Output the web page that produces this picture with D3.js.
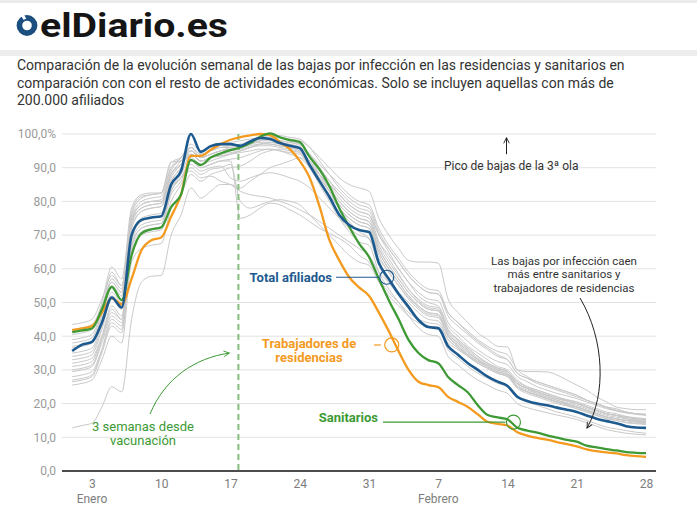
<!DOCTYPE html>
<html><head><meta charset="utf-8">
<script src="https://cdn.jsdelivr.net/npm/d3@7"></script>
<style>body{margin:0;background:#fff;font-family:Roboto,"Noto Sans",sans-serif}svg{display:block}</style>
</head><body><svg id="c" width="697" height="509"></svg>
<script>
// ---------- DATA ----------
const days = d3.range(1, 60); // 1 = 1 de enero ... 59 = 28 de febrero
const tickDays = [3, 10, 17, 24, 31, 38, 45, 52, 59];
const tickLabels = ["3", "10", "17", "24", "31", "7", "14", "21", "28"];
const monthDays = [3, 38];
const monthLabels = ["Enero", "Febrero"];
const yTicks = [0, 10, 20, 30, 40, 50, 60, 70, 80, 90, 100];
const vaccineDay = 17.8;

const totalAfiliados = [35.6,37.5,38.3,44,51.5,48.5,70,74.5,75.2,75.6, 85,89,100,94.7,96.4,97,97,96.5,97.8,98.8, 98.5,97.3,96.5,95.8,90.8,86,81.3,76,73,71.5, 70.9,61.7,57,52.5,48.7,44.8,42.7,42.4,37,34.5, 32,30,28,26.5,25.2,22,20.8,20,19.5,18.8, 18.2,17.5,16.5,15.5,14.8,14.2,13.3,12.9,12.8];
const sanitarios = [41.2,41.7,42.3,48,54.6,50.7,64,70.5,71.7,72.3, 78.3,82,92.3,90.8,93,94.2,95.2,96,97.3,99.2, 100.2,99,98.2,97.6,93.2,89.5,84.5,78,72.5,67.5, 63.5,57,50.7,45,38.9,35,32.9,32,27.9,25.5, 23.3,19.5,16.6,15.9,15.3,12.8,12,11.4,10.6,9.9, 9.2,8.7,7.5,7,6.5,6.1,5.6,5.4,5.3];
const residencias = [41.8,42.3,43,47,51.3,49.5,57,65.5,68.5,69.3, 75.5,82,93.5,93.5,95.3,97,98.3,99.1,99.6,100, 99.7,97.6,95.5,92,87,78.5,68.5,62.5,57.5,54.5, 52,47,41.5,35.5,30,26.5,25.5,24.9,22,20.5, 19,16.8,14.6,14,13.5,11.5,10.5,9.8,9.3,8.6, 8,7.3,6.4,5.9,5.5,5.2,4.7,4.4,4.2];

const otrasActividades = [
 [12.8,13.5,14.2,19,25,23.5,45,56,57.8,58, 70,76,84,81,83,85,85,84,86,88, 90,91,92,93,91,88,84,80,77,75, 74,68,64,60,56,52,50,49,43,40, 37,35,33,31,30,27,25,24,23,22, 21,20.5,19,18,17,16.5,15.5,15,14.8],
 [25.5,26,27,33,40,38,62,66,67,67.5, 78,82,88,86,88,89,90,90.5,92,94, 95,95.5,95,94.5,91,88,85,82,79,77, 76,70,66,62,58,55,53,52.5,47,44, 41,38.5,36.5,34.5,33,29,27.5,26.5,25.5,24.5, 23.5,22.5,21,20,19,18.5,17.5,17,16.8],
 [26.5,27,28,35,43,41,65,70,71,71.5, 80,85,90,88,89.5,90,91,80,78,79, 80,80.5,80,79,76,73,70,67,64,62, 61,56,52,49,46,44,43,42.5,38,36, 34,32,30.5,29,28,25,23.5,22.5,21.5,20.5, 19.5,18.5,17.5,16.5,15.5,15,14.3,14,13.8],
 [28,28.5,29.5,36,44,42,66,71,72,72.5, 82,86,92,90,91,92,92,75,76,78, 79.5,79,77.5,76,74,72,70.5,69,67,64, 62,57,53,50,47,45,44,43.5,39,36.5, 34.5,32.5,31,29.5,28.5,26,24.5,23,22,21, 20,19,18,17,16,15.5,15,14.5,14.2],
 [29.5,30,31,38,46,44,68,73,74,74.5, 84,88,94,92,93,93.5,94,95,96,97, 97.5,97,96,95,92,88,84,80,77,75, 74,66,61,57,53,50,48,47.5,42,39, 36.5,34,32,30.5,29.5,26.5,25,24,23,22, 21.2,20.5,19.5,18.5,17.5,17,16.2,15.8,15.5],
 [31,31.5,32.5,40,49,46,70,75,76,76.5, 86,90,96,93,94,95,95.5,96,97,98, 98.5,98,97.5,97,94,90,86,83,80,78, 77,70,65,60,56,53,51,50.5,44,41, 38.5,36,34,32.5,31.5,28,26.5,25,24,23, 22.3,21.5,20.5,19.5,18.5,17.8,17.2,16.8,16.5],
 [33,33.5,34.5,42,51,48,72,77,78,78.5, 87,91,95,93,94,95,96,96.5,97.5,98.5, 99,99,98.5,98,96,93,90,87,85,84, 83,75,70,66,62.5,62,62,61.7,51,47, 44,41,39,37,36.8,30,29.5,29.5,29.4,28.5, 27,25.5,24,22,20.5,19,18.5,18.2,18.2],
 [34,34.5,35.5,43,52,49,73,78,79,79.5, 88,92,96,94,95,96,96.5,97,98,99, 99.5,99.5,99,98.5,96,92,88,84,81,79, 78,71,66,62,58,55,53,52.5,46,43, 40.5,38,36,34,33,29,27.5,26,25,24, 23,22,21,20,19,18,17.5,17,16.8],
 [35,35.5,36.5,44,53,50,74,79,80,80.5, 89,93,97,95,96,97,97.5,98,98.5,99, 99.5,99,98,97,94,90,86,82,79,77, 76,68,63,58.5,54,51,49,48.5,42,39, 36.5,34,32,30.5,29.5,26,24.5,23.5,22.5,21.5, 20.8,20,19,18,17,16.5,16,15.5,15.3],
 [36.5,37,38,45,55,52,75,80,81,81.5, 90,93,96,94,95,96,96,96.5,97,98, 98,97.5,97,96,93,89,85,81,78,76, 75,67,62,58,54,50.5,48.5,48,41,38, 35.5,33,31,29.5,28.5,25,23.5,22.5,21.5,20.5, 19.8,19,18,17,16,15.5,15,14.7,14.5],
 [38,38.5,39.5,47,57,54,76,81,82,82.5, 91.5,93,95,93,94,95,95.5,96,97,97.5, 97,96.5,96,95,91,86,82,78,75,73, 72,64,59,55,51,48,46,45.5,40,37, 34.5,32,30.5,29,28,24.5,23,22,21,20, 19.3,18.5,17.5,16.5,15.5,15,14.5,14.2,14],
 [39,39.5,40.5,48,59,55,74,78,79,79.5, 88,91,94,92,93,94,95,95.5,96.5,97, 97,96.5,96,95,92,87,83,79,76,74, 73,65,60,56,52,49,47,46.5,40,37, 34.5,32.5,31,29.5,28.5,25,23.5,22.5,21.5,20.5, 19.8,19,18,17,16,15.5,15,14.8,14.6],
 [40.5,41,42,50,60.5,57,78,82,82.5,82.5, 90,92,93,91,92,93,94,95,96,96.5, 96.5,96,95.5,94.5,91,87,83,79,76,74, 73,66,61,57,53,50,48,47.5,41.5,38.5, 36,33.5,32,30.5,29.5,26,24.5,23.5,22.5,21.5, 20.8,20,19,18,17,16.5,16,15.5,15.3],
 [42,42.5,43.5,49,56,53,72,77,78,78.5, 86,90,95,93,94,95,95.5,96,97,98, 98.5,98,97.5,96.5,93,88,83,78,74,71, 69,61,56,52,48,44.5,42.5,42,36,33.5, 31,29,27.5,26,25,22,20.5,19.5,18.5,17.5, 16.8,16,15,14,13,12.5,12,11.5,11.2],
 [43.5,44,45,51,58,55,75,79,80,80, 88,91,94,92,93,94,94.5,95,96,97, 97.5,97,96.5,96,94,91,88,85,82,80, 79,72,67,63,59,56,54,53.5,47,44, 41.5,39,37,35.5,34.5,30,28,26.5,25.5,24.5, 23.5,22.5,21,20,18.8,18,17.3,17,16.8],
 [32,32.5,33.5,40,48,45,67,72,73,73.5, 83,87,92,90,91,92,92.5,93,94,95, 95.5,95,94.5,94,90,85,80,75,71,68, 67,59,54,50,46,42.5,40.5,40,34,31.5, 29,27,25.5,24,23,20,18.8,18,17.3,16.6, 16,15.3,14.3,13.3,12.3,11.7,11.2,10.9,10.7],
 [37,37.5,38.5,46,56,53,77,81.5,82,82.5, 91.7,92,94,92,93,93.5,94,94.5,95,95.5, 95.5,95,94,93,90,86,82,78,75,73, 72,65,60,56,52,49,47,46.5,40.5,38, 35.5,33,31.5,30,29,25.5,24,23,22,21, 20.3,19.5,18.5,17.5,16.5,16,15.5,15.2,15],
 [30,30.5,31.5,39,47,45,69,74,75,75.5, 84,87,91,89,90,90.5,87,86,87,88, 88.5,88,87,86,84,81,78,75,72,70, 69,63,59,55,51.5,48.5,46.5,46,40,37.5, 35,33,31.5,30,29,26,24.5,23.5,22.5,21.5, 20.8,20,19,18,17,16.5,16,15.6,15.4],
 [27,27.5,28.5,36,45,43,67,72,73,73.5, 83,87,89,87,87.5,86,85,83,82,81.5, 81,80,79,77.5,76,74,72,70,68,66, 64,59,56,53,50,47,45,44.5,39,36.5, 34,32,30.5,29,28,25,23.5,22.5,21.5,20.5, 19.8,19,18,17,16,15.5,15,14.6,14.4]
];

const titleLines = [
 "Comparación de la evolución semanal de las bajas por infección en las residencias y sanitarios en",
 "comparación con con el resto de actividades económicas. Solo se incluyen aquellas con más de",
 "200.000 afiliados"
];

// ---------- STYLE ----------
const C = {blue:"#1d5a8f", green:"#3d9a34", orange:"#f39a1f", gray:"#c9c9c9", grid:"#e3e3e3", dash:"#86bf7d"};

const svg = d3.select("#c");
const defs = svg.append("defs");
function marker(id, color){
  defs.append("marker").attr("id", id).attr("viewBox","0 0 10 10").attr("refX",9).attr("refY",5)
    .attr("markerWidth",7).attr("markerHeight",7).attr("orient","auto-start-reverse")
    .append("path").attr("d","M1,1 L9,5 L1,9").attr("fill","none").attr("stroke",color).attr("stroke-width",1.3);
}
marker("arrG", C.green); marker("arrK", "#222");

// header
svg.append("rect").attr("x",0).attr("y",0).attr("width",697).attr("height",3).attr("fill","#ebebeb");
svg.append("rect").attr("x",0).attr("y",50).attr("width",697).attr("height",6).attr("fill","#ededed");
svg.append("circle").attr("cx",27).attr("cy",25.5).attr("r",7.6).attr("fill","none").attr("stroke","#1b4f80").attr("stroke-width",5.6);
svg.append("rect").attr("x",22).attr("y",14).attr("width",3).attr("height",6).attr("fill","#fff").attr("transform","rotate(-30,23,17)");
svg.append("text").attr("x",40).attr("y",37).attr("font-size",34).attr("font-weight",700)
  .attr("fill","#151515").attr("textLength",188).attr("lengthAdjust","spacingAndGlyphs").text("elDiario.es");
svg.selectAll("text.title").data(titleLines).join("text").attr("class","title")
  .attr("x",17).attr("y",(d,i)=>70+i*17.5).attr("font-size",14).attr("fill","#333").text(d=>d);

// scales
const x = d3.scaleLinear().domain([1,59]).range([72.2,646]);
const y = d3.scaleLinear().domain([0,100]).range([471,134]);
const X0 = 62, X1 = 656;

// grid + y labels
const yAxis = d3.axisLeft(y).tickValues(yTicks).tickSize(0).tickPadding(0)
  .tickFormat(v => v === 100 ? "100,0%" : d3.format(".1f")(v).replace(".", ","));
const gy = svg.append("g").attr("transform",`translate(${X0-6},0)`).call(yAxis);
gy.select(".domain").remove();
gy.selectAll("text").attr("font-size",12).attr("fill","#9a9a9a").attr("font-family","Roboto");
svg.append("g").selectAll("line").data(yTicks.filter(v=>v>0)).join("line")
  .attr("x1",X0).attr("x2",X1).attr("y1",d=>y(d)).attr("y2",d=>y(d)).attr("stroke",C.grid).attr("stroke-width",1);

// x axis
const xAxis = d3.axisBottom(x).tickValues(tickDays).tickSize(0).tickPadding(8)
  .tickFormat((d,i)=>tickLabels[i]);
const gx = svg.append("g").attr("transform",`translate(0,${y(0)})`).call(xAxis);
gx.select(".domain").remove();
gx.selectAll("text").attr("font-size",12).attr("fill","#7d7d7d").attr("font-family","Roboto");
svg.append("line").attr("x1",X0).attr("x2",X1).attr("y1",y(0)).attr("y2",y(0)).attr("stroke","#111").attr("stroke-width",1.3);
svg.selectAll("text.month").data(monthDays).join("text").attr("class","month")
  .attr("x",d=>x(d)).attr("y",503).attr("text-anchor","middle").attr("font-size",12).attr("fill","#7d7d7d")
  .text((d,i)=>monthLabels[i]);

// lines
const line = d3.line().x((d,i)=>x(days[i])).y(d=>y(d)).curve(d3.curveMonotoneX);
svg.append("g").selectAll("path").data(otrasActividades).join("path")
  .attr("d",line).attr("fill","none").attr("stroke",C.gray).attr("stroke-width",1);

// vaccine dashed line
svg.append("line").attr("x1",x(vaccineDay)).attr("x2",x(vaccineDay)).attr("y1",y(100)).attr("y2",y(0))
  .attr("stroke",C.dash).attr("stroke-width",2).attr("stroke-dasharray","6,4");

[[residencias,C.orange,2.3],[sanitarios,C.green,2.3],[totalAfiliados,C.blue,2.6]].forEach(([s,c,w])=>{
  svg.append("path").datum(s).attr("d",line).attr("fill","none").attr("stroke",c).attr("stroke-width",w)
    .attr("stroke-linejoin","round");
});

// annotations
const ann = svg.append("g").attr("font-family","Roboto");
// total afiliados
ann.append("text").attr("x",332).attr("y",282).attr("text-anchor","end").attr("font-size",13).attr("font-weight",700).attr("fill",C.blue).text("Total afiliados");
ann.append("line").attr("x1",336).attr("x2",x(32.8)-8).attr("y1",y(57.5)).attr("y2",y(57.5)).attr("stroke",C.blue).attr("stroke-width",1.2);
ann.append("circle").attr("cx",x(32.8)).attr("cy",y(57.5)).attr("r",7).attr("fill","none").attr("stroke",C.blue).attr("stroke-width",1.2);
// residencias
ann.append("text").attr("x",309).attr("y",348).attr("text-anchor","middle").attr("font-size",13).attr("font-weight",700).attr("fill",C.orange).text("Trabajadores de");
ann.append("text").attr("x",309).attr("y",362).attr("text-anchor","middle").attr("font-size",13).attr("font-weight",700).attr("fill",C.orange).text("residencias");
ann.append("line").attr("x1",374).attr("x2",x(33.3)-11).attr("y1",y(37.4)).attr("y2",y(37.4)).attr("stroke",C.orange).attr("stroke-width",1.2);
ann.append("circle").attr("cx",x(33.3)).attr("cy",y(37.4)).attr("r",7).attr("fill","none").attr("stroke",C.orange).attr("stroke-width",1.2);
// sanitarios
ann.append("text").attr("x",378).attr("y",422).attr("text-anchor","end").attr("font-size",13).attr("font-weight",700).attr("fill",C.green).text("Sanitarios");
ann.append("line").attr("x1",383).attr("x2",x(45.6)-8).attr("y1",y(14.5)).attr("y2",y(14.5)).attr("stroke",C.green).attr("stroke-width",1.2);
ann.append("circle").attr("cx",x(45.6)).attr("cy",y(14.5)).attr("r",7).attr("fill","none").attr("stroke",C.green).attr("stroke-width",1.2);
// vaccination
ann.append("text").attr("x",143).attr("y",431).attr("text-anchor","middle").attr("font-size",13).attr("fill",C.green).text("3 semanas desde");
ann.append("text").attr("x",143).attr("y",445).attr("text-anchor","middle").attr("font-size",13).attr("fill",C.green).text("vacunación");
ann.append("path").attr("d",`M150,414 C165,378 195,358 ${x(vaccineDay)-9},${y(35)}`).attr("fill","none")
  .attr("stroke",C.green).attr("stroke-width",1).attr("marker-end","url(#arrG)");
// pico
ann.append("text").attr("x",444).attr("y",170).attr("font-size",12).attr("fill","#333").text("Pico de bajas de la 3ª ola");
ann.append("path").attr("d",`M${x(44.9)},${y(94)} L${x(44.9)},${y(98.9)}`).attr("stroke","#222").attr("stroke-width",1).attr("marker-end","url(#arrK)");
// caen
["Las bajas por infección caen","más entre sanitarios y","trabajadores de residencias"].forEach((t,i)=>{
  ann.append("text").attr("x",564).attr("y",265+i*13.3).attr("text-anchor","middle").attr("font-size",11.5).attr("fill","#333").text(t);
});
ann.append("path").attr("d",`M580,298 C605,340 606,395 587,428`).attr("fill","none").attr("stroke","#222").attr("stroke-width",1).attr("marker-end","url(#arrK)");
</script></body></html>
